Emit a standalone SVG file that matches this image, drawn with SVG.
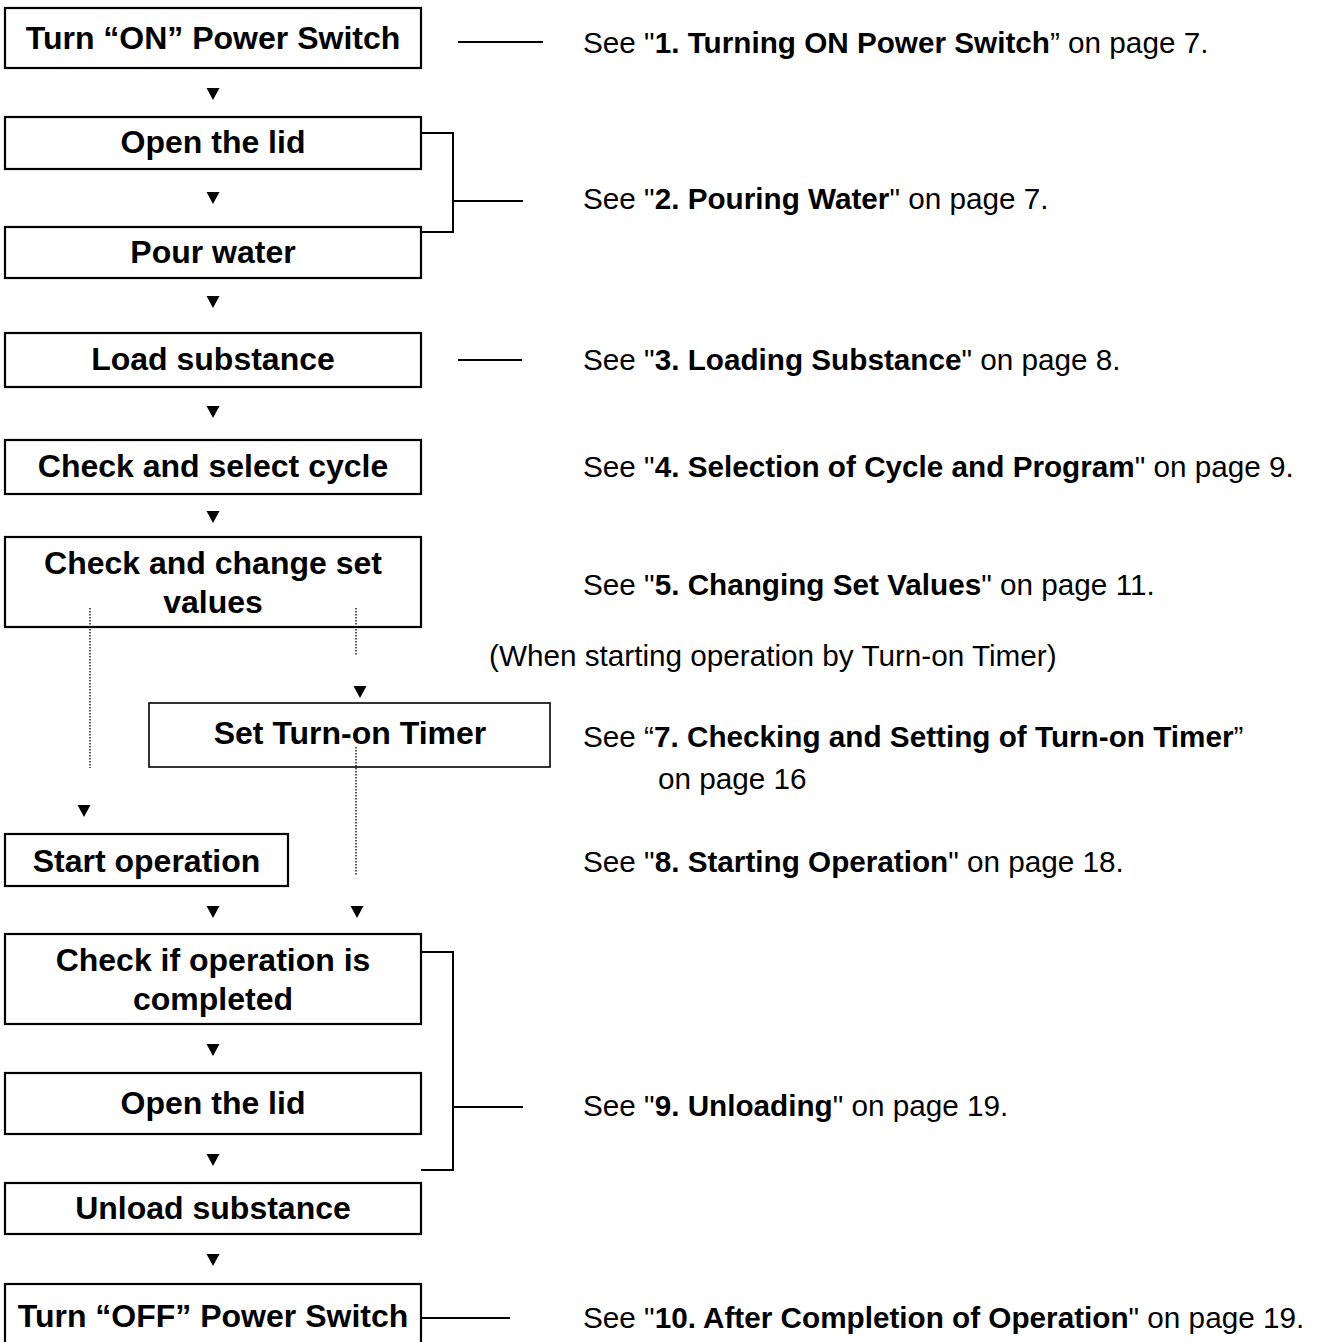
<svg xmlns="http://www.w3.org/2000/svg" xmlns:xlink="http://www.w3.org/1999/xlink" width="1317" height="1342" viewBox="0 0 1317 1342">
<style>
.box{fill:#fff;stroke:#000;stroke-width:2.2}
.bt{font-family:"Liberation Sans",Arial,sans-serif;font-weight:bold;font-size:32px;fill:#000;text-anchor:middle}
.rt{font-family:"Liberation Sans",Arial,sans-serif;font-size:29.7px;fill:#000}
.rt tspan.b{font-weight:bold}
.ln{fill:none;stroke:#000;stroke-width:2}
.dot{fill:none;stroke:#222;stroke-width:1.5;stroke-dasharray:1.5 1.5}
</style>
<defs>
<path id="tri" d="M-6.5,0 L6.5,0 L0,12 Z" fill="#000"/>
</defs>
<rect width="1317" height="1342" fill="#fff"/>

<g id="connectors">
<use xlink:href="#tri" x="213" y="88"/>
<use xlink:href="#tri" x="213" y="192"/>
<use xlink:href="#tri" x="213" y="296"/>
<use xlink:href="#tri" x="213" y="406"/>
<use xlink:href="#tri" x="213" y="511"/>
<use xlink:href="#tri" x="360" y="686"/>
<use xlink:href="#tri" x="84" y="805"/>
<use xlink:href="#tri" x="213" y="906"/>
<use xlink:href="#tri" x="357" y="906"/>
<use xlink:href="#tri" x="213" y="1044"/>
<use xlink:href="#tri" x="213" y="1154"/>
<use xlink:href="#tri" x="213" y="1254"/>
<line class="ln" x1="458" y1="42" x2="543" y2="42"/>
<path class="ln" d="M421,133 H453 V232 H421"/>
<line class="ln" x1="453" y1="201" x2="523" y2="201"/>
<line class="ln" x1="458" y1="360" x2="522" y2="360"/>
<path class="ln" d="M421,952 H453 V1170 H421"/>
<line class="ln" x1="453" y1="1107" x2="523" y2="1107"/>
<line class="ln" x1="422" y1="1318" x2="510" y2="1318"/>
</g>

<g id="n1"><rect class="box" x="5" y="8" width="416" height="60"/><text class="bt" x="213" y="49">Turn “ON” Power Switch</text></g>
<g id="n2"><rect class="box" x="5" y="117" width="416" height="52"/><text class="bt" x="213" y="153">Open the lid</text></g>
<g id="n3"><rect class="box" x="5" y="227" width="416" height="51"/><text class="bt" x="213" y="263">Pour water</text></g>
<g id="n4"><rect class="box" x="5" y="333" width="416" height="54"/><text class="bt" x="213" y="370">Load substance</text></g>
<g id="n5"><rect class="box" x="5" y="440" width="416" height="54"/><text class="bt" x="213" y="477">Check and select cycle</text></g>
<g id="n6"><rect class="box" x="5" y="537" width="416" height="90"/><text class="bt" x="213" y="574">Check and change set</text><text class="bt" x="213" y="613">values</text></g>
<g id="n7"><rect class="box" x="149" y="703" width="401" height="64" style="stroke-width:1.6"/><text class="bt" x="350" y="744">Set Turn-on Timer</text></g>
<g id="n8"><rect class="box" x="5" y="834" width="283" height="52"/><text class="bt" x="146.5" y="872">Start operation</text></g>
<g id="n9"><rect class="box" x="5" y="934" width="416" height="90"/><text class="bt" x="213" y="971">Check if operation is</text><text class="bt" x="213" y="1010">completed</text></g>
<g id="n10"><rect class="box" x="5" y="1073" width="416" height="61"/><text class="bt" x="213" y="1114">Open the lid</text></g>
<g id="n11"><rect class="box" x="5" y="1183" width="416" height="51"/><text class="bt" x="213" y="1219">Unload substance</text></g>
<g id="n12"><rect class="box" x="5" y="1284" width="416" height="70"/><text class="bt" x="213" y="1327">Turn “OFF” Power Switch</text></g>

<g id="dotted">
<line class="dot" x1="90" y1="608" x2="90" y2="768"/>
<line class="dot" x1="356" y1="608" x2="356" y2="655"/>
<line class="dot" x1="356" y1="747" x2="356" y2="875"/>
</g>

<g id="notes">
<text class="rt" x="583" y="53">See "<tspan class="b">1. Turning ON Power Switch</tspan>” on page 7.</text>
<text class="rt" x="583" y="209">See "<tspan class="b">2. Pouring Water</tspan>" on page 7.</text>
<text class="rt" x="583" y="370">See "<tspan class="b">3. Loading Substance</tspan>" on page 8.</text>
<text class="rt" x="583" y="477">See "<tspan class="b">4. Selection of Cycle and Program</tspan>" on page 9.</text>
<text class="rt" x="583" y="595">See "<tspan class="b">5. Changing Set Values</tspan>" on page 11.</text>
<text class="rt" x="489" y="666">(When starting operation by Turn-on Timer)</text>
<text class="rt" x="583" y="747">See “<tspan class="b">7. Checking and Setting of Turn-on Timer</tspan>”</text>
<text class="rt" x="658" y="789">on page 16</text>
<text class="rt" x="583" y="872">See "<tspan class="b">8. Starting Operation</tspan>" on page 18.</text>
<text class="rt" x="583" y="1116">See "<tspan class="b">9. Unloading</tspan>" on page 19.</text>
<text class="rt" x="583" y="1328">See "<tspan class="b">10. After Completion of Operation</tspan>" on page 19.</text>
</g>
</svg>
